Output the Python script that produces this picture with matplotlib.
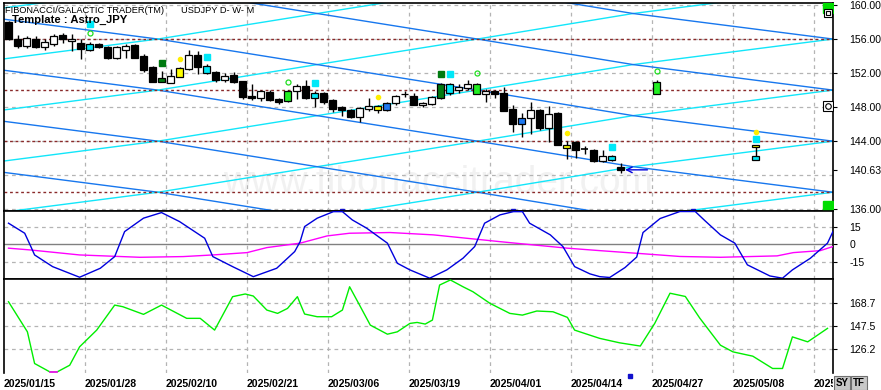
import numpy as np
import matplotlib
matplotlib.use('Agg')
import matplotlib.pyplot as plt
import matplotlib.transforms as mtransforms
from matplotlib.patches import Rectangle

plt.rcParams['font.family'] = ['Liberation Sans', 'DejaVu Sans']

# Daily USDJPY candles, one per trading day from 2025/01/15
opens = [158.05, 156.06, 155.2, 156.06, 155.12, 155.47, 156.45, 155.78, 155.59, 155.39,
         155.47, 155.12, 153.83, 154.7, 155.28, 154.03, 152.66, 151.0, 150.83, 151.57,
         152.47, 154.15, 152.86, 152.08, 151.18, 151.8, 151.1, 149.35, 149.07, 149.8,
         148.95, 148.7, 149.93, 150.44, 149.66, 149.66, 148.84, 148.06, 147.7, 146.8,
         147.78, 147.67, 147.67, 148.49, 149.5, 149.34, 148.25, 148.37, 149.07, 149.66,
         150.05, 150.2, 149.54, 149.54, 149.85, 149.7, 147.78, 146.03, 146.73, 147.67,
         145.56, 147.3, 143.53, 143.88, 143.06, 143.02, 141.66, 142.28, 140.95]
highs = [158.1, 156.45, 156.3, 156.3, 155.98, 156.64, 156.68, 156.56, 155.98, 155.7,
         155.59, 155.2, 155.2, 155.4, 155.4, 154.22, 152.8, 152.27, 152.47, 152.7,
         154.7, 154.6, 153.05, 152.27, 152.0, 152.08, 151.1, 150.7, 150.0, 150.0,
         149.1, 150.0, 150.7, 151.18, 149.93, 149.8, 148.95, 148.1, 147.78, 147.98,
         149.07, 148.2, 148.6, 149.4, 149.93, 149.7, 148.6, 149.3, 150.8, 150.8,
         150.7, 151.2, 150.8, 150.1, 150.0, 150.4, 148.29, 147.3, 148.56, 147.8,
         148.17, 147.4, 144.0, 144.0, 143.49, 143.1, 142.98, 142.4, 141.42]
lows = [155.9, 155.0, 155.0, 154.9, 154.73, 155.2, 155.59, 154.6, 153.64, 154.6,
        155.0, 153.6, 153.7, 153.83, 153.8, 152.08, 150.9, 150.9, 150.8, 151.5,
        152.4, 151.88, 151.9, 150.98, 150.9, 150.8, 149.0, 148.88, 148.76, 148.7,
        148.4, 148.6, 148.95, 148.9, 147.98, 148.4, 147.4, 146.9, 146.7, 146.3,
        147.6, 147.28, 147.6, 148.25, 149.15, 148.2, 148.0, 148.2, 149.0, 149.4,
        149.7, 150.0, 149.5, 148.56, 149.1, 147.5, 145.05, 144.46, 144.85, 145.3,
        143.88, 143.5, 141.93, 142.04, 142.5, 141.6, 141.5, 141.7, 140.3]
closes = [155.98, 155.2, 156.17, 155.12, 155.7, 156.37, 155.98, 155.98, 154.81, 154.7,
          155.08, 153.83, 155.12, 155.2, 153.83, 152.35, 150.98, 151.37, 151.69, 152.58,
          154.11, 152.66, 152.0, 151.18, 151.69, 150.9, 149.15, 149.07, 149.85, 148.8,
          148.56, 149.93, 150.44, 149.07, 149.07, 148.56, 147.78, 147.7, 146.8, 147.86,
          148.17, 148.1, 148.49, 149.34, 149.6, 148.25, 148.52, 149.23, 150.71, 150.71,
          150.4, 150.71, 150.71, 149.85, 149.54, 147.59, 146.03, 146.69, 147.67, 145.56,
          147.2, 143.6, 143.22, 142.98, 143.06, 141.66, 142.2, 141.81, 140.63]

# highlighted candle bodies (bar index -> colour name)
special_bars = [9, 17, 19, 22, 31, 34, 41, 42, 48, 49, 52, 57, 62, 67]
special_kinds = ['cyan', 'dkgreen', 'yellow', 'cyan', 'green', 'cyan', 'yellow', 'blue',
                 'dkgreen', 'cyan', 'green', 'blue', 'yellow', 'cyan']

# projected candles on the right
proj_bar = [72]
proj_open = [149.55]
proj_high = [151.2]
proj_low = [149.5]
proj_close = [150.97]
proj2_bar = 83
proj2_yellow = (143.3, 143.6)
proj2_cyan = (141.8, 142.3)

# signal markers above candles
cyan_sq_bars = [9, 22, 34, 49, 67, 83]
cyan_sq_prices = [157.75, 153.9, 150.85, 151.9, 143.35, 144.3]
dkgreen_sq_bars = [17, 48]
dkgreen_sq_prices = [153.2, 151.9]
circle_bars = [9, 31, 52, 72]
circle_prices = [156.75, 150.9, 152.0, 152.2]
dot_bars = [19, 41, 62, 83]
dot_prices = [153.6, 149.23, 145.0, 145.05]
event_bars = [37, 56, 76]
event_bars_low = [69]

# astro channel lines: knot bars and price step between knots
channel_knots = [-5.4, 16.6, 34.3, 52.1, 69.4, 91.6]
channel_step = 3.0
channel_levels = [138, 144, 150, 156]

# cycle oscillator (middle panel)
osc_x = [0, 1.8, 2.4, 2.9, 4.9, 7.9, 10.2, 11.8, 12.9, 15, 17, 19, 21.8, 22.7, 24.9,
         27.2, 29.8, 31.8, 32.4, 32.9, 34.3, 36.1, 37.1, 38.2, 39.8, 42.1, 43.2, 44.6,
         46.8, 48.7, 50.5, 51.8, 52.9, 54.6, 56.1, 57.1, 57.9, 60.2, 61.6, 62.9, 64.6,
         65.7, 66.8, 68.5, 69.8, 70.5, 72.4, 74.6, 76.3, 77.4, 79.1, 80.7, 82.1, 84.6,
         86, 87.1, 89.1, 91, 91.6]
osc_v = [18, 9.4, -0.6, -9.2, -19.2, -28.3, -20.6, -10.6, 10.8, 22.3, 27.1, 19.4, 5.1,
         -10.6, -19.2, -27.8, -20.6, -6.3, 2.2, 15.1, 22.3, 27.9, 27.9, 20.8, 13.7, 0.9,
         -16.3, -22, -29.1, -22, -12, -2, 18, 25.1, 27.9, 27.9, 18, 8, -2, -19.2, -25.4,
         -27.8, -28.5, -20, -11, 10, 22, 28, 28, 20, 8, 0.9, -17.7, -27.2, -29.1, -22,
         -12, 0.9, 10.8]
slow_x = [0, 2.4, 7.9, 14.6, 19.4, 22.7, 26.5, 28.7, 32.4, 35.4, 37.9, 42.4, 47.2,
          50.9, 54.6, 58.3, 62.1, 65.7, 70.2, 74.6, 79.1, 85.4, 87.2, 90.2, 91.6]
slow_v = [-3.4, -4.9, -9.2, -11.2, -10.6, -9.2, -7.2, -2.9, 0.9, 7.1, 9.4, 10, 8, 5.1,
          2.2, -0.6, -3.4, -5.5, -8, -10.5, -11.2, -10, -7.2, -5.5, -2]

# lower panel line
low_x = [0, 2.1, 2.9, 4.6, 5.4, 6.8, 7.9, 9.8, 11.8, 12.7, 15, 17, 19.8, 21.3, 22.9,
         24.9, 26.3, 27.2, 28.7, 29.9, 31, 32.1, 32.4, 32.9, 34.3, 35.9, 37.1, 37.9,
         39.1, 40.2, 42.1, 43.2, 44.6, 45.4, 46.3, 47.1, 47.9, 49.1, 50.5, 51.6, 53.5,
         55.7, 57.1, 58.7, 60.5, 62.1, 62.9, 64.6, 65.7, 67.9, 70.2, 71.8, 73.5, 75.2,
         76.8, 79.1, 80.5, 82.7, 84.9, 86, 87.1, 88.8, 91]
low_v = [170.1, 142.2, 112.8, 105, 105, 111.2, 128.3, 143.8, 167, 165.5, 158.4, 167,
         154.7, 154.7, 143.8, 174.8, 177.3, 175.4, 162.4, 159.3, 163.9, 174.8, 168.6,
         158.7, 156.2, 156.2, 162.4, 184, 165.5, 148.4, 140, 142.2, 150, 150.9, 149.4,
         153.1, 185.6, 190.3, 184, 179.4, 168.6, 159.3, 157.7, 161.5, 160.8, 155.6,
         143.8, 139.1, 136.1, 132, 129, 150, 178, 175, 155, 129.8, 123.6, 119.6, 108.2,
         108.2, 137.5, 132.9, 145.4]
low_magenta = (4.6, 5.4)

date_labels = ['2025/01/15', '2025/01/28', '2025/02/10', '2025/02/21', '2025/03/06',
               '2025/03/19', '2025/04/01', '2025/04/14', '2025/04/27', '2025/05/08',
               '2025/05/21']
price_ticks = [136, 140.63, 144, 148, 152, 156, 160]
osc_ticks = [-15, 0, 15]
low_ticks = [126.2, 147.5, 168.7]

COLORS = {'cyan': '#00e8f8', 'dkgreen': '#007a10', 'yellow': '#ffff00',
          'green': '#22ee22', 'blue': '#1e78f0'}
BLUE_LINE = '#1777ee'
CYAN_LINE = '#12e6fa'
GRID = '#b4b4b4'


def draw_candle(ax, i, o, h, l, c, face):
  ax.vlines(i, l, h, color='black', lw=1.0, zorder=4)
  if abs(c - o) < 0.02:
    ax.hlines(o, i - 0.38, i + 0.38, color='black', lw=1.2, zorder=5)
    return
  ax.add_patch(Rectangle((i - 0.38, min(o, c)), 0.76, abs(c - o), facecolor=face,
                         edgecolor='black', lw=0.9, zorder=5))


def main():
  fig = plt.figure(figsize=(8.81, 3.9), dpi=100)
  left, width = 4 / 881, 829 / 881
  ax = fig.add_axes([left, 1 - 210.7 / 390, width, 207.7 / 390])
  ax_osc = fig.add_axes([left, 1 - 279 / 390, width, 68.3 / 390], sharex=ax)
  ax_low = fig.add_axes([left, 1 - 373 / 390, width, 94 / 390], sharex=ax)

  n_dates = len(date_labels)
  grid_x = np.arange(n_dates) * 9 - 0.5

  for a in (ax, ax_osc, ax_low):
    a.set_xlim(-0.5, 91.61)
    for gx in grid_x[1:]:
      a.axvline(gx, color=GRID, lw=0.9, ls=(0, (3, 3)), zorder=1)
    for s in a.spines.values():
      s.set_linewidth(1.2)
    a.yaxis.tick_right()
    a.tick_params(axis='y', length=3, pad=9, labelsize=7.6)
    a.tick_params(axis='x', length=0)

  # main price panel
  ax.set_ylim(135.83, 160.235)
  ax.set_yticks(price_ticks)
  ax.set_yticklabels(['%.2f' % t for t in price_ticks])
  for t in [136, 140, 144, 148, 152, 156, 160]:
    ax.axhline(t, color=GRID, lw=0.9, ls=(0, (3, 3)), zorder=1)
  ax.text(0.264, 0.085, 'www.fibonaccitrader.com', transform=ax.transAxes,
          fontsize=28, color='#f1f1f1', zorder=0)

  # channel lines
  knots = np.array(channel_knots)
  j = np.arange(len(knots)) - 1
  for base in range(120, 190, 6):
    ax.plot(knots, base - channel_step * j, color=BLUE_LINE, lw=1.0, zorder=2)
    ax.plot(knots, base + channel_step * j, color=CYAN_LINE, lw=1.0, zorder=2)
  for lev in channel_levels:
    ax.axhline(lev, color='#8a2a2a', lw=1.0, ls=(0, (2, 2)), zorder=2.5)

  # candles
  for i in range(len(opens)):
    face = 'white' if closes[i] >= opens[i] else 'black'
    if i in special_bars:
      face = COLORS[special_kinds[special_bars.index(i)]]
    draw_candle(ax, i, opens[i], highs[i], lows[i], closes[i], face)
  for k in range(len(proj_bar)):
    draw_candle(ax, proj_bar[k], proj_open[k], proj_high[k], proj_low[k],
                proj_close[k], COLORS['green'])
  ax.vlines(proj2_bar, proj2_cyan[0], proj2_yellow[1], color='black', lw=1.0, zorder=4)
  for (lo, hi), col in ((proj2_yellow, 'yellow'), (proj2_cyan, 'cyan')):
    ax.add_patch(Rectangle((proj2_bar - 0.38, lo), 0.76, hi - lo, facecolor=COLORS[col],
                           edgecolor='black', lw=0.9, zorder=5))

  # signal markers
  ax.plot(cyan_sq_bars, cyan_sq_prices, 's', ms=4.5, color=COLORS['cyan'], zorder=6)
  ax.plot(dkgreen_sq_bars, dkgreen_sq_prices, 's', ms=4.5, color=COLORS['dkgreen'], zorder=6)
  ax.plot(circle_bars, circle_prices, 'o', ms=3.6, mfc='none', mec='#22dd22', mew=0.9,
          zorder=6)
  ax.plot(dot_bars, dot_prices, 'o', ms=3, color='#ffee00', zorder=6)
  ax.annotate('', xy=(68.2, closes[-1]), xytext=(71.3, closes[-1]),
              arrowprops=dict(arrowstyle='->', color='#0000dd', lw=1.0), zorder=7)
  bx = mtransforms.blended_transform_factory(ax.transData, ax.transAxes)
  ax.plot(event_bars, [0.0] * len(event_bars), 's', ms=3, color='#1010cc',
          transform=bx, clip_on=False, zorder=7)

  # small panel buttons on the right edge
  ax.plot([0.9935], [0.978], 's', ms=6.5, color='#00dd00', transform=ax.transAxes, zorder=8)
  ax.plot([0.9935], [0.023], 's', ms=6.5, color='#00dd00', transform=ax.transAxes, zorder=8)
  ax.plot([0.9935], [0.953], 's', ms=5.5, mfc='white', mec='black', mew=0.8,
          transform=ax.transAxes, zorder=8)
  ax.plot([0.9935], [0.953], 's', ms=2.5, mfc='white', mec='black', mew=0.8,
          transform=ax.transAxes, zorder=8)
  ax.plot([0.9935], [0.504], 's', ms=7.5, mfc='white', mec='black', mew=0.8,
          transform=ax.transAxes, zorder=8)
  ax.plot([0.9935], [0.504], 'o', ms=4, mfc='none', mec='black', mew=0.8,
          transform=ax.transAxes, zorder=8)
  ax.tick_params(axis='x', labelbottom=False)

  # cycle oscillator
  ax_osc.set_ylim(-29.8, 28.7)
  ax_osc.set_yticks(osc_ticks)
  ax_osc.set_yticklabels([str(t) for t in osc_ticks])
  for t in (-15, 15):
    ax_osc.axhline(t, color=GRID, lw=0.9, ls=(0, (3, 3)), zorder=1)
  ax_osc.axhline(0, color='#808080', lw=1.0, zorder=1)
  ax_osc.plot(slow_x, slow_v, color='#ff00ff', lw=1.0, zorder=3)
  ax_osc.plot(osc_x, osc_v, color='#0000dd', lw=1.0, zorder=3)
  ax_osc.tick_params(axis='x', labelbottom=False)

  # lower panel
  ax_low.set_ylim(104, 191.2)
  ax_low.set_yticks(low_ticks)
  ax_low.set_yticklabels([str(t) for t in low_ticks])
  for t in low_ticks:
    ax_low.axhline(t, color=GRID, lw=0.9, ls=(0, (3, 3)), zorder=1)
  ax_low.plot(low_x, low_v, color='#00ee00', lw=1.0, zorder=3)
  lx, lv = np.array(low_x), np.array(low_v)
  sel = (lx >= low_magenta[0]) & (lx <= low_magenta[1])
  ax_low.plot(lx[sel], lv[sel], color='#ff00ff', lw=1.2, zorder=4)
  ax_low.spines['bottom'].set_visible(False)
  bx2 = mtransforms.blended_transform_factory(ax_low.transData, ax_low.transAxes)
  ax_low.plot(event_bars_low, [-0.035] * len(event_bars_low), 's', ms=3, color='#1010cc',
              transform=bx2, clip_on=False, zorder=7)
  ax_low.set_xticks(grid_x)
  ax_low.set_xticklabels(date_labels, ha='left', fontsize=7.6, fontweight='bold')
  ax_low.tick_params(axis='x', pad=4)

  # the last date label runs under the SY/TF buttons
  clip = mtransforms.Bbox.from_extents(0, 0, 833, 40)
  ax_low.get_xticklabels()[-1].set_clip_box(mtransforms.TransformedBbox(
      clip, mtransforms.IdentityTransform()))
  ax_low.get_xticklabels()[-1].set_clip_on(True)

  # header texts
  fig.text(5 / 881, 1 - 10.5 / 390, 'FIBONACCI/GALACTIC TRADER(TM)', fontsize=6.7,
           va='center')
  fig.text(181 / 881, 1 - 10.5 / 390, 'USDJPY D- W- M', fontsize=6.7, va='center')
  fig.text(12 / 881, 1 - 20 / 390, 'Template : Astro_JPY', fontsize=8.1,
           fontweight='bold', va='center')

  # SY / TF buttons
  for x0, label in ((834, 'SY'), (851, 'TF')):
    fig.add_artist(Rectangle((x0 / 881, 0), 16 / 881, 14 / 390, transform=fig.transFigure,
                             facecolor='#c8c8c8', edgecolor='#707070', lw=0.8, zorder=10))
    fig.text((x0 + 8) / 881, 7 / 390, label, fontsize=7, fontweight='bold',
             ha='center', va='center', zorder=11)

  fig.savefig('out.png', dpi=100)


if __name__ == "__main__":
  main()
